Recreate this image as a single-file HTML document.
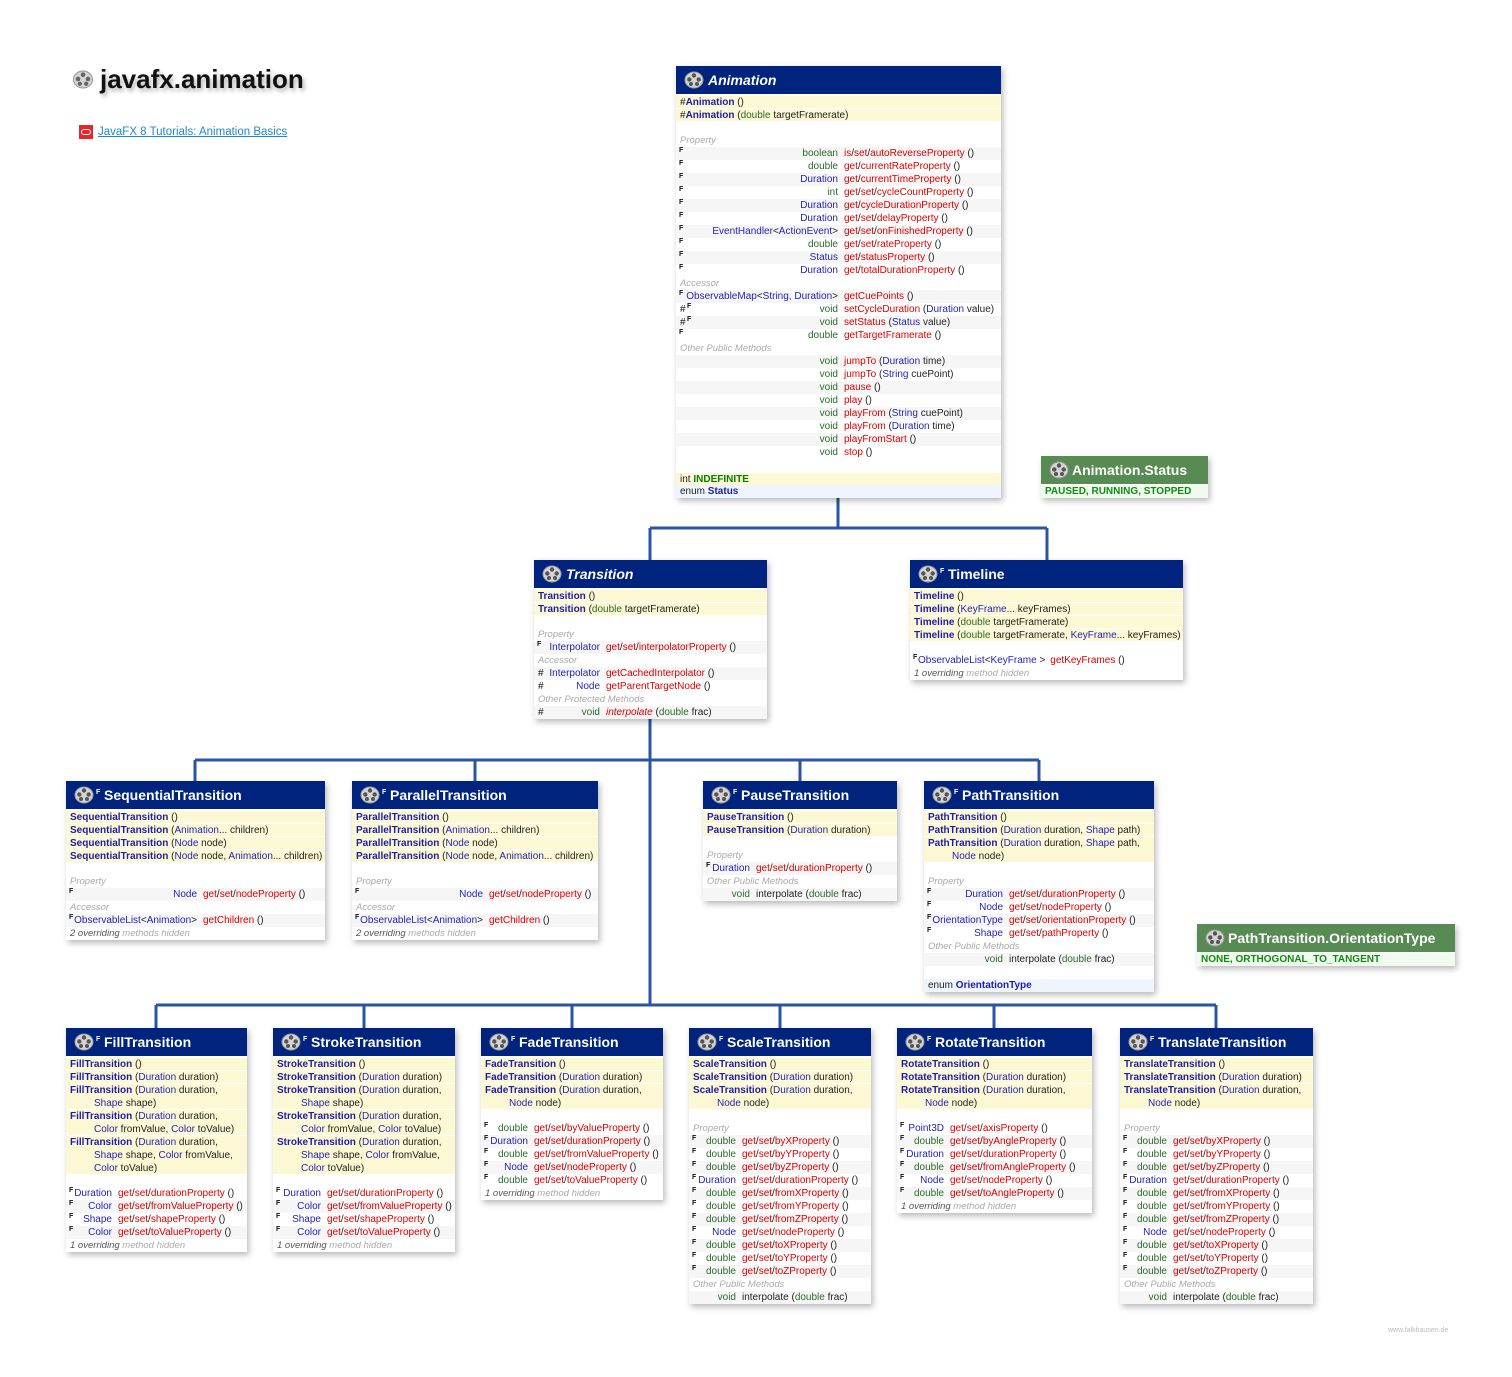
<!DOCTYPE html>
<html><head><meta charset="utf-8">
<style>
body{margin:0;width:1512px;height:1377px;background:#fff;position:relative;overflow:hidden;font-family:"Liberation Sans",sans-serif}
.bx{position:absolute;background:#fff;box-shadow:2px 3px 6px rgba(0,0,0,.28);font-size:10px;color:#222}
.hd{position:relative;height:28px;background:#00247d;color:#fff;font-weight:bold;font-size:14px;margin-bottom:1px}
.hd svg{position:absolute;left:8px;top:5px}
.hd .ti{position:absolute;left:32px;top:0;line-height:28px;white-space:nowrap}
.hd .hf{position:absolute;left:30px;top:8px;font-size:7px;line-height:8px}
.hd.f .ti{left:38px}
.hd.gr{background:#588a53}
.r{position:relative;height:13px;line-height:14px;white-space:nowrap;box-sizing:border-box}
.c{background:#fcf8d3;border-top:1px solid #fff;line-height:13px;padding-left:4px}
.c2{height:26px}.c3{height:39px}
.ind{padding-left:24px}
.cn{color:#1d1da8;font-weight:bold}
.lb{padding-left:4px;color:#aaa;font-style:italic;font-size:9.5px}
.g{background:#f6f6f6}
.t{display:inline-block;width:var(--tw);text-align:right}
.n{margin-left:6px;color:#d00}
.k{color:#222}
.p{color:#2a6a2a}
.b{color:#2323b8}
.mk{position:absolute;left:3px;top:-1px;font-size:7px;line-height:9px;font-weight:bold;font-style:normal;color:#111}
.hs{position:absolute;left:4px;top:0;color:#111}
.ov{padding-left:4px;font-style:italic;color:#555;font-size:9.5px}
.ov span{color:#aaa}
.en{background:#eef5fc;padding-left:4px}
.ge{background:#effbef;color:#128a12;font-weight:bold;padding-left:4px}
</style></head><body>

<svg width="1512" height="1377" style="position:absolute;left:0;top:0" fill="none" stroke="#2a55a5" stroke-width="3">
<path d="M838 498V528M650 528H1047M650 528V560M1047 528V560"/>
<path d="M650 719V1005M195 760H1039M195 760V781M475 760V781M800 760V781M1039 760V781"/>
<path d="M156 1005H1216M156 1005V1028M364 1005V1028M572 1005V1028M780 1005V1028M994 1005V1028M1216 1005V1028"/>
</svg>

<!-- Title -->
<svg style="position:absolute;left:72px;top:70px" width="22" height="19" viewBox="0 0 20 18"><ellipse cx="10" cy="9" rx="9" ry="8" fill="#d4d4d4" stroke="#999"/><circle cx="10" cy="4.5" r="2.2" fill="#666"/><circle cx="5.3" cy="8.5" r="2.2" fill="#666"/><circle cx="14.7" cy="8.5" r="2.2" fill="#666"/><circle cx="7" cy="13" r="2" fill="#666"/><circle cx="13" cy="13" r="2" fill="#666"/></svg>
<div style="position:absolute;left:100px;top:64px;font-size:26px;font-weight:bold;line-height:30px;color:#111;text-shadow:2px 3px 4px rgba(0,0,0,.3)">javafx.animation</div>
<div style="position:absolute;left:79px;top:125px;width:14px;height:14px;background:#e8262a"><div style="position:absolute;left:2px;top:4px;width:8px;height:4px;border:1.5px solid #fff;border-radius:4px"></div></div>
<div style="position:absolute;left:98px;top:125px;font-size:11.5px;line-height:14px;color:#1e88c8;text-decoration:underline">JavaFX 8 Tutorials: Animation Basics</div>

<!-- Animation -->
<div class="bx" style="left:676px;top:66px;width:325px;--tw:162px">
<div class="hd"><svg width="20" height="18" viewBox="0 0 20 18"><ellipse cx="10" cy="9" rx="9" ry="8" fill="#d4d4d4" stroke="#999"/><circle cx="10" cy="4.5" r="2.2" fill="#555"/><circle cx="5.3" cy="8.5" r="2.2" fill="#555"/><circle cx="14.7" cy="8.5" r="2.2" fill="#555"/><circle cx="7" cy="13" r="2" fill="#555"/><circle cx="13" cy="13" r="2" fill="#555"/></svg><span class="ti" style="font-style:italic">Animation</span></div>
<div class="r c"><span class="k">#</span><span class="cn">Animation</span> ()</div>
<div class="r c"><span class="k">#</span><span class="cn">Animation</span> (<span class="p">double</span> targetFramerate)</div>
<div class="r"></div>
<div class="r lb">Property</div>
<div class="r g"><i class="mk">F</i><span class="t p">boolean</span><span class="n">is<span class="k">/</span>set<span class="k">/</span>autoReverseProperty<span class="k"> ()</span></span></div>
<div class="r"><i class="mk">F</i><span class="t p">double</span><span class="n">get<span class="k">/</span>currentRateProperty<span class="k"> ()</span></span></div>
<div class="r g"><i class="mk">F</i><span class="t b">Duration</span><span class="n">get<span class="k">/</span>currentTimeProperty<span class="k"> ()</span></span></div>
<div class="r"><i class="mk">F</i><span class="t p">int</span><span class="n">get<span class="k">/</span>set<span class="k">/</span>cycleCountProperty<span class="k"> ()</span></span></div>
<div class="r g"><i class="mk">F</i><span class="t b">Duration</span><span class="n">get<span class="k">/</span>cycleDurationProperty<span class="k"> ()</span></span></div>
<div class="r"><i class="mk">F</i><span class="t b">Duration</span><span class="n">get<span class="k">/</span>set<span class="k">/</span>delayProperty<span class="k"> ()</span></span></div>
<div class="r g"><i class="mk">F</i><span class="t b">EventHandler<span class="k">&lt;</span>ActionEvent<span class="k">&gt;</span></span><span class="n">get<span class="k">/</span>set<span class="k">/</span>onFinishedProperty<span class="k"> ()</span></span></div>
<div class="r"><i class="mk">F</i><span class="t p">double</span><span class="n">get<span class="k">/</span>set<span class="k">/</span>rateProperty<span class="k"> ()</span></span></div>
<div class="r g"><i class="mk">F</i><span class="t b">Status</span><span class="n">get<span class="k">/</span>statusProperty<span class="k"> ()</span></span></div>
<div class="r"><i class="mk">F</i><span class="t b">Duration</span><span class="n">get<span class="k">/</span>totalDurationProperty<span class="k"> ()</span></span></div>
<div class="r lb">Accessor</div>
<div class="r g"><i class="mk">F</i><span class="t b">ObservableMap<span class="k">&lt;</span>String, Duration<span class="k">&gt;</span></span><span class="n">getCuePoints<span class="k"> ()</span></span></div>
<div class="r"><span class="hs">#</span><i class="mk" style="left:11px">F</i><span class="t p">void</span><span class="n">setCycleDuration<span class="k"> (<span class="b">Duration</span> value)</span></span></div>
<div class="r g"><span class="hs">#</span><i class="mk" style="left:11px">F</i><span class="t p">void</span><span class="n">setStatus<span class="k"> (<span class="b">Status</span> value)</span></span></div>
<div class="r"><i class="mk">F</i><span class="t p">double</span><span class="n">getTargetFramerate<span class="k"> ()</span></span></div>
<div class="r lb">Other Public Methods</div>
<div class="r g"><span class="t p">void</span><span class="n">jumpTo<span class="k"> (<span class="b">Duration</span> time)</span></span></div>
<div class="r"><span class="t p">void</span><span class="n">jumpTo<span class="k"> (<span class="b">String</span> cuePoint)</span></span></div>
<div class="r g"><span class="t p">void</span><span class="n">pause<span class="k"> ()</span></span></div>
<div class="r"><span class="t p">void</span><span class="n">play<span class="k"> ()</span></span></div>
<div class="r g"><span class="t p">void</span><span class="n">playFrom<span class="k"> (<span class="b">String</span> cuePoint)</span></span></div>
<div class="r"><span class="t p">void</span><span class="n">playFrom<span class="k"> (<span class="b">Duration</span> time)</span></span></div>
<div class="r g"><span class="t p">void</span><span class="n">playFromStart<span class="k"> ()</span></span></div>
<div class="r"><span class="t p">void</span><span class="n">stop<span class="k"> ()</span></span></div>
<div class="r"></div>
<div class="r c">int <span style="color:#0a7a0a;font-weight:bold">INDEFINITE</span></div>
<div class="r en">enum <span class="cn">Status</span></div>
</div>

<!-- Animation.Status -->
<div class="bx" style="left:1041px;top:456px;width:167px">
<div class="hd gr"><svg width="20" height="18" viewBox="0 0 20 18"><ellipse cx="10" cy="9" rx="9" ry="8" fill="#d4d4d4" stroke="#999"/><circle cx="10" cy="4.5" r="2.2" fill="#555"/><circle cx="5.3" cy="8.5" r="2.2" fill="#555"/><circle cx="14.7" cy="8.5" r="2.2" fill="#555"/><circle cx="7" cy="13" r="2" fill="#555"/><circle cx="13" cy="13" r="2" fill="#555"/></svg><span class="ti" style="left:31px">Animation.Status</span></div>
<div class="r ge">PAUSED, RUNNING, STOPPED</div>
</div>

<!-- Transition -->
<div class="bx" style="left:534px;top:560px;width:233px;--tw:66px">
<div class="hd"><svg width="20" height="18" viewBox="0 0 20 18"><ellipse cx="10" cy="9" rx="9" ry="8" fill="#d4d4d4" stroke="#999"/><circle cx="10" cy="4.5" r="2.2" fill="#555"/><circle cx="5.3" cy="8.5" r="2.2" fill="#555"/><circle cx="14.7" cy="8.5" r="2.2" fill="#555"/><circle cx="7" cy="13" r="2" fill="#555"/><circle cx="13" cy="13" r="2" fill="#555"/></svg><span class="ti" style="font-style:italic">Transition</span></div>
<div class="r c"><span class="cn">Transition</span> ()</div>
<div class="r c"><span class="cn">Transition</span> (<span class="p">double</span> targetFramerate)</div>
<div class="r"></div>
<div class="r lb">Property</div>
<div class="r g"><i class="mk">F</i><span class="t b">Interpolator</span><span class="n">get<span class="k">/</span>set<span class="k">/</span>interpolatorProperty<span class="k"> ()</span></span></div>
<div class="r lb">Accessor</div>
<div class="r g"><span class="hs">#</span><span class="t b">Interpolator</span><span class="n">getCachedInterpolator<span class="k"> ()</span></span></div>
<div class="r"><span class="hs">#</span><span class="t b">Node</span><span class="n">getParentTargetNode<span class="k"> ()</span></span></div>
<div class="r lb">Other Protected Methods</div>
<div class="r g"><span class="hs">#</span><span class="t p">void</span><span class="n"><i>interpolate</i><span class="k"> (<span class="p">double</span> frac)</span></span></div>
</div>

<!-- Timeline -->
<div class="bx" style="left:910px;top:560px;width:273px;--tw:130px">
<div class="hd f"><svg width="20" height="18" viewBox="0 0 20 18"><ellipse cx="10" cy="9" rx="9" ry="8" fill="#d4d4d4" stroke="#999"/><circle cx="10" cy="4.5" r="2.2" fill="#555"/><circle cx="5.3" cy="8.5" r="2.2" fill="#555"/><circle cx="14.7" cy="8.5" r="2.2" fill="#555"/><circle cx="7" cy="13" r="2" fill="#555"/><circle cx="13" cy="13" r="2" fill="#555"/></svg><span class="hf">F</span><span class="ti">Timeline</span></div>
<div class="r c"><span class="cn">Timeline</span> ()</div>
<div class="r c"><span class="cn">Timeline</span> (<span class="b">KeyFrame</span>... keyFrames)</div>
<div class="r c"><span class="cn">Timeline</span> (<span class="p">double</span> targetFramerate)</div>
<div class="r c"><span class="cn">Timeline</span> (<span class="p">double</span> targetFramerate, <span class="b">KeyFrame</span>... keyFrames)</div>
<div class="r"></div>
<div class="r"><i class="mk">F</i><span class="b" style="padding-left:8px">ObservableList<span class="k">&lt;</span>KeyFrame<span class="k"> &gt;</span></span><span class="n" style="margin-left:5px">getKeyFrames<span class="k"> ()</span></span></div>
<div class="r ov">1 overriding <span>method hidden</span></div>
</div>

<!-- SequentialTransition -->
<div class="bx" style="left:66px;top:781px;width:259px;--tw:131px">
<div class="hd f"><svg width="20" height="18" viewBox="0 0 20 18"><ellipse cx="10" cy="9" rx="9" ry="8" fill="#d4d4d4" stroke="#999"/><circle cx="10" cy="4.5" r="2.2" fill="#555"/><circle cx="5.3" cy="8.5" r="2.2" fill="#555"/><circle cx="14.7" cy="8.5" r="2.2" fill="#555"/><circle cx="7" cy="13" r="2" fill="#555"/><circle cx="13" cy="13" r="2" fill="#555"/></svg><span class="hf">F</span><span class="ti">SequentialTransition</span></div>
<div class="r c"><span class="cn">SequentialTransition</span> ()</div>
<div class="r c"><span class="cn">SequentialTransition</span> (<span class="b">Animation</span>... children)</div>
<div class="r c"><span class="cn">SequentialTransition</span> (<span class="b">Node</span> node)</div>
<div class="r c"><span class="cn">SequentialTransition</span> (<span class="b">Node</span> node, <span class="b">Animation</span>... children)</div>
<div class="r"></div>
<div class="r lb">Property</div>
<div class="r g"><i class="mk">F</i><span class="t b">Node</span><span class="n">get<span class="k">/</span>set<span class="k">/</span>nodeProperty<span class="k"> ()</span></span></div>
<div class="r lb">Accessor</div>
<div class="r g"><i class="mk">F</i><span class="t b">ObservableList<span class="k">&lt;</span>Animation<span class="k">&gt;</span></span><span class="n">getChildren<span class="k"> ()</span></span></div>
<div class="r ov">2 overriding <span>methods hidden</span></div>
</div>

<!-- ParallelTransition -->
<div class="bx" style="left:352px;top:781px;width:246px;--tw:131px">
<div class="hd f"><svg width="20" height="18" viewBox="0 0 20 18"><ellipse cx="10" cy="9" rx="9" ry="8" fill="#d4d4d4" stroke="#999"/><circle cx="10" cy="4.5" r="2.2" fill="#555"/><circle cx="5.3" cy="8.5" r="2.2" fill="#555"/><circle cx="14.7" cy="8.5" r="2.2" fill="#555"/><circle cx="7" cy="13" r="2" fill="#555"/><circle cx="13" cy="13" r="2" fill="#555"/></svg><span class="hf">F</span><span class="ti">ParallelTransition</span></div>
<div class="r c"><span class="cn">ParallelTransition</span> ()</div>
<div class="r c"><span class="cn">ParallelTransition</span> (<span class="b">Animation</span>... children)</div>
<div class="r c"><span class="cn">ParallelTransition</span> (<span class="b">Node</span> node)</div>
<div class="r c"><span class="cn">ParallelTransition</span> (<span class="b">Node</span> node, <span class="b">Animation</span>... children)</div>
<div class="r"></div>
<div class="r lb">Property</div>
<div class="r g"><i class="mk">F</i><span class="t b">Node</span><span class="n">get<span class="k">/</span>set<span class="k">/</span>nodeProperty<span class="k"> ()</span></span></div>
<div class="r lb">Accessor</div>
<div class="r g"><i class="mk">F</i><span class="t b">ObservableList<span class="k">&lt;</span>Animation<span class="k">&gt;</span></span><span class="n">getChildren<span class="k"> ()</span></span></div>
<div class="r ov">2 overriding <span>methods hidden</span></div>
</div>

<!-- PauseTransition -->
<div class="bx" style="left:703px;top:781px;width:194px;--tw:47px">
<div class="hd f"><svg width="20" height="18" viewBox="0 0 20 18"><ellipse cx="10" cy="9" rx="9" ry="8" fill="#d4d4d4" stroke="#999"/><circle cx="10" cy="4.5" r="2.2" fill="#555"/><circle cx="5.3" cy="8.5" r="2.2" fill="#555"/><circle cx="14.7" cy="8.5" r="2.2" fill="#555"/><circle cx="7" cy="13" r="2" fill="#555"/><circle cx="13" cy="13" r="2" fill="#555"/></svg><span class="hf">F</span><span class="ti">PauseTransition</span></div>
<div class="r c"><span class="cn">PauseTransition</span> ()</div>
<div class="r c"><span class="cn">PauseTransition</span> (<span class="b">Duration</span> duration)</div>
<div class="r"></div>
<div class="r lb">Property</div>
<div class="r g"><i class="mk">F</i><span class="t b">Duration</span><span class="n">get<span class="k">/</span>set<span class="k">/</span>durationProperty<span class="k"> ()</span></span></div>
<div class="r lb">Other Public Methods</div>
<div class="r g"><span class="t p">void</span><span class="n k">interpolate (<span class="p">double</span> frac)</span></div>
</div>

<!-- PathTransition -->
<div class="bx" style="left:924px;top:781px;width:230px;--tw:79px">
<div class="hd f"><svg width="20" height="18" viewBox="0 0 20 18"><ellipse cx="10" cy="9" rx="9" ry="8" fill="#d4d4d4" stroke="#999"/><circle cx="10" cy="4.5" r="2.2" fill="#555"/><circle cx="5.3" cy="8.5" r="2.2" fill="#555"/><circle cx="14.7" cy="8.5" r="2.2" fill="#555"/><circle cx="7" cy="13" r="2" fill="#555"/><circle cx="13" cy="13" r="2" fill="#555"/></svg><span class="hf">F</span><span class="ti">PathTransition</span></div>
<div class="r c"><span class="cn">PathTransition</span> ()</div>
<div class="r c"><span class="cn">PathTransition</span> (<span class="b">Duration</span> duration, <span class="b">Shape</span> path)</div>
<div class="r c c2"><span class="cn">PathTransition</span> (<span class="b">Duration</span> duration, <span class="b">Shape</span> path,<br><span class="ind"><span class="b">Node</span> node)</span></div>
<div class="r"></div>
<div class="r lb">Property</div>
<div class="r g"><i class="mk">F</i><span class="t b">Duration</span><span class="n">get<span class="k">/</span>set<span class="k">/</span>durationProperty<span class="k"> ()</span></span></div>
<div class="r"><i class="mk">F</i><span class="t b">Node</span><span class="n">get<span class="k">/</span>set<span class="k">/</span>nodeProperty<span class="k"> ()</span></span></div>
<div class="r g"><i class="mk">F</i><span class="t b">OrientationType</span><span class="n">get<span class="k">/</span>set<span class="k">/</span>orientationProperty<span class="k"> ()</span></span></div>
<div class="r"><i class="mk">F</i><span class="t b">Shape</span><span class="n">get<span class="k">/</span>set<span class="k">/</span>pathProperty<span class="k"> ()</span></span></div>
<div class="r lb">Other Public Methods</div>
<div class="r g"><span class="t p">void</span><span class="n k">interpolate (<span class="p">double</span> frac)</span></div>
<div class="r"></div>
<div class="r en">enum <span class="cn">OrientationType</span></div>
</div>

<!-- PathTransition.OrientationType -->
<div class="bx" style="left:1197px;top:924px;width:258px">
<div class="hd gr"><svg width="20" height="18" viewBox="0 0 20 18"><ellipse cx="10" cy="9" rx="9" ry="8" fill="#d4d4d4" stroke="#999"/><circle cx="10" cy="4.5" r="2.2" fill="#555"/><circle cx="5.3" cy="8.5" r="2.2" fill="#555"/><circle cx="14.7" cy="8.5" r="2.2" fill="#555"/><circle cx="7" cy="13" r="2" fill="#555"/><circle cx="13" cy="13" r="2" fill="#555"/></svg><span class="ti" style="left:31px">PathTransition.OrientationType</span></div>
<div class="r ge">NONE, ORTHOGONAL_TO_TANGENT</div>
</div>

<!-- FillTransition -->
<div class="bx" style="left:66px;top:1028px;width:181px;--tw:46px">
<div class="hd f"><svg width="20" height="18" viewBox="0 0 20 18"><ellipse cx="10" cy="9" rx="9" ry="8" fill="#d4d4d4" stroke="#999"/><circle cx="10" cy="4.5" r="2.2" fill="#555"/><circle cx="5.3" cy="8.5" r="2.2" fill="#555"/><circle cx="14.7" cy="8.5" r="2.2" fill="#555"/><circle cx="7" cy="13" r="2" fill="#555"/><circle cx="13" cy="13" r="2" fill="#555"/></svg><span class="hf">F</span><span class="ti">FillTransition</span></div>
<div class="r c"><span class="cn">FillTransition</span> ()</div>
<div class="r c"><span class="cn">FillTransition</span> (<span class="b">Duration</span> duration)</div>
<div class="r c c2"><span class="cn">FillTransition</span> (<span class="b">Duration</span> duration,<br><span class="ind"><span class="b">Shape</span> shape)</span></div>
<div class="r c c2"><span class="cn">FillTransition</span> (<span class="b">Duration</span> duration,<br><span class="ind"><span class="b">Color</span> fromValue, <span class="b">Color</span> toValue)</span></div>
<div class="r c c3"><span class="cn">FillTransition</span> (<span class="b">Duration</span> duration,<br><span class="ind"><span class="b">Shape</span> shape, <span class="b">Color</span> fromValue,</span><br><span class="ind"><span class="b">Color</span> toValue)</span></div>
<div class="r"></div>
<div class="r"><i class="mk">F</i><span class="t b">Duration</span><span class="n">get<span class="k">/</span>set<span class="k">/</span>durationProperty<span class="k"> ()</span></span></div>
<div class="r g"><i class="mk">F</i><span class="t b">Color</span><span class="n">get<span class="k">/</span>set<span class="k">/</span>fromValueProperty<span class="k"> ()</span></span></div>
<div class="r"><i class="mk">F</i><span class="t b">Shape</span><span class="n">get<span class="k">/</span>set<span class="k">/</span>shapeProperty<span class="k"> ()</span></span></div>
<div class="r g"><i class="mk">F</i><span class="t b">Color</span><span class="n">get<span class="k">/</span>set<span class="k">/</span>toValueProperty<span class="k"> ()</span></span></div>
<div class="r ov">1 overriding <span>method hidden</span></div>
</div>

<!-- StrokeTransition -->
<div class="bx" style="left:273px;top:1028px;width:182px;--tw:48px">
<div class="hd f"><svg width="20" height="18" viewBox="0 0 20 18"><ellipse cx="10" cy="9" rx="9" ry="8" fill="#d4d4d4" stroke="#999"/><circle cx="10" cy="4.5" r="2.2" fill="#555"/><circle cx="5.3" cy="8.5" r="2.2" fill="#555"/><circle cx="14.7" cy="8.5" r="2.2" fill="#555"/><circle cx="7" cy="13" r="2" fill="#555"/><circle cx="13" cy="13" r="2" fill="#555"/></svg><span class="hf">F</span><span class="ti">StrokeTransition</span></div>
<div class="r c"><span class="cn">StrokeTransition</span> ()</div>
<div class="r c"><span class="cn">StrokeTransition</span> (<span class="b">Duration</span> duration)</div>
<div class="r c c2"><span class="cn">StrokeTransition</span> (<span class="b">Duration</span> duration,<br><span class="ind"><span class="b">Shape</span> shape)</span></div>
<div class="r c c2"><span class="cn">StrokeTransition</span> (<span class="b">Duration</span> duration,<br><span class="ind"><span class="b">Color</span> fromValue, <span class="b">Color</span> toValue)</span></div>
<div class="r c c3"><span class="cn">StrokeTransition</span> (<span class="b">Duration</span> duration,<br><span class="ind"><span class="b">Shape</span> shape, <span class="b">Color</span> fromValue,</span><br><span class="ind"><span class="b">Color</span> toValue)</span></div>
<div class="r"></div>
<div class="r"><i class="mk">F</i><span class="t b">Duration</span><span class="n">get<span class="k">/</span>set<span class="k">/</span>durationProperty<span class="k"> ()</span></span></div>
<div class="r g"><i class="mk">F</i><span class="t b">Color</span><span class="n">get<span class="k">/</span>set<span class="k">/</span>fromValueProperty<span class="k"> ()</span></span></div>
<div class="r"><i class="mk">F</i><span class="t b">Shape</span><span class="n">get<span class="k">/</span>set<span class="k">/</span>shapeProperty<span class="k"> ()</span></span></div>
<div class="r g"><i class="mk">F</i><span class="t b">Color</span><span class="n">get<span class="k">/</span>set<span class="k">/</span>toValueProperty<span class="k"> ()</span></span></div>
<div class="r ov">1 overriding <span>method hidden</span></div>
</div>

<!-- FadeTransition -->
<div class="bx" style="left:481px;top:1028px;width:182px;--tw:47px">
<div class="hd f"><svg width="20" height="18" viewBox="0 0 20 18"><ellipse cx="10" cy="9" rx="9" ry="8" fill="#d4d4d4" stroke="#999"/><circle cx="10" cy="4.5" r="2.2" fill="#555"/><circle cx="5.3" cy="8.5" r="2.2" fill="#555"/><circle cx="14.7" cy="8.5" r="2.2" fill="#555"/><circle cx="7" cy="13" r="2" fill="#555"/><circle cx="13" cy="13" r="2" fill="#555"/></svg><span class="hf">F</span><span class="ti">FadeTransition</span></div>
<div class="r c"><span class="cn">FadeTransition</span> ()</div>
<div class="r c"><span class="cn">FadeTransition</span> (<span class="b">Duration</span> duration)</div>
<div class="r c c2"><span class="cn">FadeTransition</span> (<span class="b">Duration</span> duration,<br><span class="ind"><span class="b">Node</span> node)</span></div>
<div class="r"></div>
<div class="r"><i class="mk">F</i><span class="t p">double</span><span class="n">get<span class="k">/</span>set<span class="k">/</span>byValueProperty<span class="k"> ()</span></span></div>
<div class="r g"><i class="mk">F</i><span class="t b">Duration</span><span class="n">get<span class="k">/</span>set<span class="k">/</span>durationProperty<span class="k"> ()</span></span></div>
<div class="r"><i class="mk">F</i><span class="t p">double</span><span class="n">get<span class="k">/</span>set<span class="k">/</span>fromValueProperty<span class="k"> ()</span></span></div>
<div class="r g"><i class="mk">F</i><span class="t b">Node</span><span class="n">get<span class="k">/</span>set<span class="k">/</span>nodeProperty<span class="k"> ()</span></span></div>
<div class="r"><i class="mk">F</i><span class="t p">double</span><span class="n">get<span class="k">/</span>set<span class="k">/</span>toValueProperty<span class="k"> ()</span></span></div>
<div class="r ov">1 overriding <span>method hidden</span></div>
</div>

<!-- ScaleTransition -->
<div class="bx" style="left:689px;top:1028px;width:182px;--tw:47px">
<div class="hd f"><svg width="20" height="18" viewBox="0 0 20 18"><ellipse cx="10" cy="9" rx="9" ry="8" fill="#d4d4d4" stroke="#999"/><circle cx="10" cy="4.5" r="2.2" fill="#555"/><circle cx="5.3" cy="8.5" r="2.2" fill="#555"/><circle cx="14.7" cy="8.5" r="2.2" fill="#555"/><circle cx="7" cy="13" r="2" fill="#555"/><circle cx="13" cy="13" r="2" fill="#555"/></svg><span class="hf">F</span><span class="ti">ScaleTransition</span></div>
<div class="r c"><span class="cn">ScaleTransition</span> ()</div>
<div class="r c"><span class="cn">ScaleTransition</span> (<span class="b">Duration</span> duration)</div>
<div class="r c c2"><span class="cn">ScaleTransition</span> (<span class="b">Duration</span> duration,<br><span class="ind"><span class="b">Node</span> node)</span></div>
<div class="r"></div>
<div class="r lb">Property</div>
<div class="r g"><i class="mk">F</i><span class="t p">double</span><span class="n">get<span class="k">/</span>set<span class="k">/</span>byXProperty<span class="k"> ()</span></span></div>
<div class="r"><i class="mk">F</i><span class="t p">double</span><span class="n">get<span class="k">/</span>set<span class="k">/</span>byYProperty<span class="k"> ()</span></span></div>
<div class="r g"><i class="mk">F</i><span class="t p">double</span><span class="n">get<span class="k">/</span>set<span class="k">/</span>byZProperty<span class="k"> ()</span></span></div>
<div class="r"><i class="mk">F</i><span class="t b">Duration</span><span class="n">get<span class="k">/</span>set<span class="k">/</span>durationProperty<span class="k"> ()</span></span></div>
<div class="r g"><i class="mk">F</i><span class="t p">double</span><span class="n">get<span class="k">/</span>set<span class="k">/</span>fromXProperty<span class="k"> ()</span></span></div>
<div class="r"><i class="mk">F</i><span class="t p">double</span><span class="n">get<span class="k">/</span>set<span class="k">/</span>fromYProperty<span class="k"> ()</span></span></div>
<div class="r g"><i class="mk">F</i><span class="t p">double</span><span class="n">get<span class="k">/</span>set<span class="k">/</span>fromZProperty<span class="k"> ()</span></span></div>
<div class="r"><i class="mk">F</i><span class="t b">Node</span><span class="n">get<span class="k">/</span>set<span class="k">/</span>nodeProperty<span class="k"> ()</span></span></div>
<div class="r g"><i class="mk">F</i><span class="t p">double</span><span class="n">get<span class="k">/</span>set<span class="k">/</span>toXProperty<span class="k"> ()</span></span></div>
<div class="r"><i class="mk">F</i><span class="t p">double</span><span class="n">get<span class="k">/</span>set<span class="k">/</span>toYProperty<span class="k"> ()</span></span></div>
<div class="r g"><i class="mk">F</i><span class="t p">double</span><span class="n">get<span class="k">/</span>set<span class="k">/</span>toZProperty<span class="k"> ()</span></span></div>
<div class="r lb">Other Public Methods</div>
<div class="r g"><span class="t p">void</span><span class="n k">interpolate (<span class="p">double</span> frac)</span></div>
</div>

<!-- RotateTransition -->
<div class="bx" style="left:897px;top:1028px;width:195px;--tw:47px">
<div class="hd f"><svg width="20" height="18" viewBox="0 0 20 18"><ellipse cx="10" cy="9" rx="9" ry="8" fill="#d4d4d4" stroke="#999"/><circle cx="10" cy="4.5" r="2.2" fill="#555"/><circle cx="5.3" cy="8.5" r="2.2" fill="#555"/><circle cx="14.7" cy="8.5" r="2.2" fill="#555"/><circle cx="7" cy="13" r="2" fill="#555"/><circle cx="13" cy="13" r="2" fill="#555"/></svg><span class="hf">F</span><span class="ti">RotateTransition</span></div>
<div class="r c"><span class="cn">RotateTransition</span> ()</div>
<div class="r c"><span class="cn">RotateTransition</span> (<span class="b">Duration</span> duration)</div>
<div class="r c c2"><span class="cn">RotateTransition</span> (<span class="b">Duration</span> duration,<br><span class="ind"><span class="b">Node</span> node)</span></div>
<div class="r"></div>
<div class="r"><i class="mk">F</i><span class="t b">Point3D</span><span class="n">get<span class="k">/</span>set<span class="k">/</span>axisProperty<span class="k"> ()</span></span></div>
<div class="r g"><i class="mk">F</i><span class="t p">double</span><span class="n">get<span class="k">/</span>set<span class="k">/</span>byAngleProperty<span class="k"> ()</span></span></div>
<div class="r"><i class="mk">F</i><span class="t b">Duration</span><span class="n">get<span class="k">/</span>set<span class="k">/</span>durationProperty<span class="k"> ()</span></span></div>
<div class="r g"><i class="mk">F</i><span class="t p">double</span><span class="n">get<span class="k">/</span>set<span class="k">/</span>fromAngleProperty<span class="k"> ()</span></span></div>
<div class="r"><i class="mk">F</i><span class="t b">Node</span><span class="n">get<span class="k">/</span>set<span class="k">/</span>nodeProperty<span class="k"> ()</span></span></div>
<div class="r g"><i class="mk">F</i><span class="t p">double</span><span class="n">get<span class="k">/</span>set<span class="k">/</span>toAngleProperty<span class="k"> ()</span></span></div>
<div class="r ov">1 overriding <span>method hidden</span></div>
</div>

<!-- TranslateTransition -->
<div class="bx" style="left:1120px;top:1028px;width:193px;--tw:47px">
<div class="hd f"><svg width="20" height="18" viewBox="0 0 20 18"><ellipse cx="10" cy="9" rx="9" ry="8" fill="#d4d4d4" stroke="#999"/><circle cx="10" cy="4.5" r="2.2" fill="#555"/><circle cx="5.3" cy="8.5" r="2.2" fill="#555"/><circle cx="14.7" cy="8.5" r="2.2" fill="#555"/><circle cx="7" cy="13" r="2" fill="#555"/><circle cx="13" cy="13" r="2" fill="#555"/></svg><span class="hf">F</span><span class="ti">TranslateTransition</span></div>
<div class="r c"><span class="cn">TranslateTransition</span> ()</div>
<div class="r c"><span class="cn">TranslateTransition</span> (<span class="b">Duration</span> duration)</div>
<div class="r c c2"><span class="cn">TranslateTransition</span> (<span class="b">Duration</span> duration,<br><span class="ind"><span class="b">Node</span> node)</span></div>
<div class="r"></div>
<div class="r lb">Property</div>
<div class="r g"><i class="mk">F</i><span class="t p">double</span><span class="n">get<span class="k">/</span>set<span class="k">/</span>byXProperty<span class="k"> ()</span></span></div>
<div class="r"><i class="mk">F</i><span class="t p">double</span><span class="n">get<span class="k">/</span>set<span class="k">/</span>byYProperty<span class="k"> ()</span></span></div>
<div class="r g"><i class="mk">F</i><span class="t p">double</span><span class="n">get<span class="k">/</span>set<span class="k">/</span>byZProperty<span class="k"> ()</span></span></div>
<div class="r"><i class="mk">F</i><span class="t b">Duration</span><span class="n">get<span class="k">/</span>set<span class="k">/</span>durationProperty<span class="k"> ()</span></span></div>
<div class="r g"><i class="mk">F</i><span class="t p">double</span><span class="n">get<span class="k">/</span>set<span class="k">/</span>fromXProperty<span class="k"> ()</span></span></div>
<div class="r"><i class="mk">F</i><span class="t p">double</span><span class="n">get<span class="k">/</span>set<span class="k">/</span>fromYProperty<span class="k"> ()</span></span></div>
<div class="r g"><i class="mk">F</i><span class="t p">double</span><span class="n">get<span class="k">/</span>set<span class="k">/</span>fromZProperty<span class="k"> ()</span></span></div>
<div class="r"><i class="mk">F</i><span class="t b">Node</span><span class="n">get<span class="k">/</span>set<span class="k">/</span>nodeProperty<span class="k"> ()</span></span></div>
<div class="r g"><i class="mk">F</i><span class="t p">double</span><span class="n">get<span class="k">/</span>set<span class="k">/</span>toXProperty<span class="k"> ()</span></span></div>
<div class="r"><i class="mk">F</i><span class="t p">double</span><span class="n">get<span class="k">/</span>set<span class="k">/</span>toYProperty<span class="k"> ()</span></span></div>
<div class="r g"><i class="mk">F</i><span class="t p">double</span><span class="n">get<span class="k">/</span>set<span class="k">/</span>toZProperty<span class="k"> ()</span></span></div>
<div class="r lb">Other Public Methods</div>
<div class="r g"><span class="t p">void</span><span class="n k">interpolate (<span class="p">double</span> frac)</span></div>
</div>

<div style="position:absolute;left:1388px;top:1327px;font-size:7px;color:#bbb">www.falkhausen.de</div>
</body></html>
